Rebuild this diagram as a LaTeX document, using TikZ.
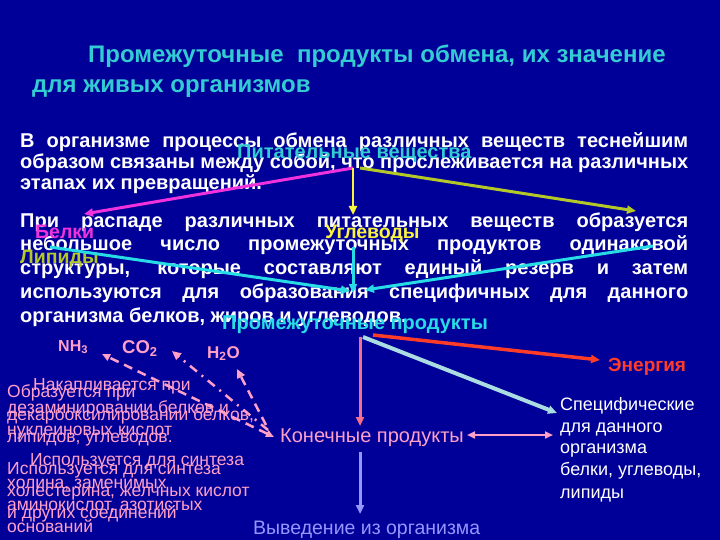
\documentclass[tikz,border=0pt]{standalone}
\usepackage{fontspec}
\setmainfont{Liberation Sans}
\usetikzlibrary{arrows.meta}
\definecolor{bg}{RGB}{0,0,153}
\definecolor{tcyan}{RGB}{51,204,210}
\definecolor{lcyan}{RGB}{40,220,230}
\definecolor{mag}{RGB}{240,50,220}
\definecolor{yel}{RGB}{250,245,60}
\definecolor{olv}{RGB}{180,200,40}
\definecolor{pinkt}{RGB}{255,160,200}
\definecolor{salm}{RGB}{245,110,140}
\definecolor{redt}{RGB}{255,60,40}
\definecolor{palec}{RGB}{170,220,225}
\definecolor{peri}{RGB}{150,150,255}
\tikzset{
  lbl/.style={anchor=base west, inner sep=0pt},
  titletxt/.style={lbl, text=tcyan, font=\fontsize{24}{28}\selectfont\bfseries},
  bodytxt/.style={lbl, text=white, font=\fontsize{20}{24}\selectfont\bfseries},
  schemetxt/.style={lbl, font=\fontsize{19.5}{22}\selectfont\bfseries},
  pinktxt/.style={lbl, text=pinkt, font=\fontsize{17.5}{20}\selectfont},
  spectxt/.style={lbl, text=white, font=\fontsize{18}{20}\selectfont},
  arr/.style={line width=3pt, -{Triangle[length=9pt,width=8pt]}},
  darr/.style={line width=2.5pt, {Triangle[length=8pt,width=7pt]}-{Triangle[length=8pt,width=7pt]}}
}
\newcommand{\jline}[1]{\makebox[668pt][s]{#1}}
\begin{document}
\begin{tikzpicture}[x=1pt,y=-1pt]
\fill[bg] (0,0) rectangle (720,540);
\useasboundingbox (0,0) rectangle (720,540);
% title
\node[titletxt] (t1) at (88,63) {Промежуточные\ \ продукты обмена, их значение};
\node[titletxt] (t2) at (32,93) {для живых организмов};
% paragraph 1
\node[bodytxt] (p1) at (20,148) {\jline{В организме процессы обмена различных веществ теснейшим}};
\node[bodytxt] (p2) at (20,169) {\jline{образом связаны между собой, что прослеживается на различных}};
\node[bodytxt] (p3) at (20,190) {этапах их превращений.};
% paragraph 2
\node[bodytxt] (q1) at (20,228) {\jline{При распаде различных питательных веществ образуется}};
\node[bodytxt] (q2) at (20,251) {\jline{небольшое число промежуточных продуктов одинаковой}};
\node[bodytxt] (q3) at (20,274) {\jline{структуры, которые составляют единый резерв и затем}};
\node[bodytxt] (q4) at (20,298) {\jline{используются для образования специфичных для данного}};
\node[bodytxt] (q5) at (20,322) {организма белков, жиров и углеводов.};
% scheme labels
\node[schemetxt, text=tcyan, font=\fontsize{20}{22}\selectfont\bfseries] (pv) at (237,159) {Питательные вещества};
\node[schemetxt, text=mag] (bel) at (35,238) {Белки};
\node[schemetxt, text=yel] (ugl) at (325,239) {Углеводы};
\node[schemetxt, text=olv] (lip) at (20,263) {Липиды};
\node[schemetxt, text=lcyan, font=\fontsize{20}{22}\selectfont\bfseries] (pp) at (222,329) {Промежуточные продукты};
\node[lbl, text=redt, font=\fontsize{19}{22}\selectfont\bfseries] (en) at (608,371) {Энергия};
\node[lbl, text=pinkt, font=\fontsize{16}{18}\selectfont\bfseries] (nh) at (58,351) {NH\textsubscript{3}};
\node[lbl, text=pinkt, font=\fontsize{18.5}{20}\selectfont\bfseries] (co) at (122,353) {CO\textsubscript{2}};
\node[lbl, text=pinkt, font=\fontsize{17}{18}\selectfont\bfseries] (ho) at (207,358) {H\textsubscript{2}O};
\node[lbl, text=pinkt, font=\fontsize{20}{22}\selectfont] (kp) at (280,442) {Конечные продукты};
\node[lbl, text=peri, font=\fontsize{19.5}{22}\selectfont] (vv) at (253,534) {Выведение из организма};
% specific
\node[spectxt] (s1) at (560,410) {Специфические};
\node[spectxt] (s2) at (560,432) {для данного};
\node[spectxt] (s3) at (560,453) {организма};
\node[spectxt] (s4) at (560,475) {белки, углеводы,};
\node[spectxt] (s5) at (560,498) {липиды};
% overlapping pink texts
\node[pinktxt] (a1) at (33,390) {Накапливается при};
\node[pinktxt] (a2) at (7,413) {дезаминировании белков и};
\node[pinktxt] (a3) at (7,435) {нуклеиновых кислот};
\node[pinktxt] (b1) at (7,397) {Образуется при};
\node[pinktxt] (b2) at (7,420) {декарбоксилировании белков,};
\node[pinktxt] (b3) at (7,442) {липидов, углеводов.};
\node[pinktxt] (c1) at (30,465) {Используется для синтеза};
\node[pinktxt] (c2) at (7,488) {холина, заменимых};
\node[pinktxt] (c3) at (7,510) {аминокислот, азотистых};
\node[pinktxt] (c4) at (7,532) {оснований};
\node[pinktxt] (d1) at (7,474) {Используется для синтеза};
\node[pinktxt] (d2) at (7,496) {холестерина, желчных кислот};
\node[pinktxt] (d3) at (7,518) {и других соединений};
% connector end points
\coordinate (pvs) at (353,168);
\coordinate (pvr) at (360,168);
\coordinate (belt) at (84,214);
\coordinate (uglt) at (353,215);
\coordinate (lipt) at (636,211);
\coordinate (belf) at (50,247);
\coordinate (uglf) at (353,247);
\coordinate (lipf) at (653,246);
\coordinate (ppl) at (350,291);
\coordinate (ppm) at (353,293);
\coordinate (ppr) at (365,290);
\coordinate (pp1) at (360,337);
\coordinate (pp2) at (373,335);
\coordinate (pp3) at (363,337);
\coordinate (ent) at (600,360);
\coordinate (spt) at (557,413);
\coordinate (kpt) at (360,426);
\coordinate (kpb) at (360,452);
\coordinate (vvt) at (360,514);
\coordinate (kpr) at (467,435);
\coordinate (spl) at (553,435);
\coordinate (nht) at (102,354);
\coordinate (cot) at (172,351);
\coordinate (hot) at (237,369);
\coordinate (kl1) at (274,437);
\coordinate (kl2) at (268,430);
\coordinate (kl3) at (266,425);
% upper arrows
\draw[arr, mag] (pvs) -- (belt);
\draw[arr, yel, line width=2.5pt] (pvs) -- (uglt);
\draw[arr, olv] (pvr) -- (lipt);
\draw[arr, lcyan] (belf) -- (ppl);
\draw[arr, lcyan] (uglf) -- (ppm);
\draw[arr, lcyan] (lipf) -- (ppr);
% lower arrows
\draw[arr, salm] (pp1) -- (kpt);
\draw[arr, redt, line width=3.5pt] (pp2) -- (ent);
\draw[arr, palec, line width=4pt] (pp3) -- (spt);
\draw[darr, pinkt] (kpr) -- (spl);
\draw[arr, peri] (kpb) -- (vvt);
\draw[darr, pinkt, dash pattern=on 9pt off 6pt] (kl1) -- (nht);
\draw[arr, pinkt, line width=2.5pt, dash pattern=on 9pt off 6pt on 2pt off 6pt] (kl2) -- (cot);
\draw[arr, pinkt, line width=2.5pt, dash pattern=on 9pt off 6pt] (kl3) -- (hot);
\end{tikzpicture}
\end{document}
